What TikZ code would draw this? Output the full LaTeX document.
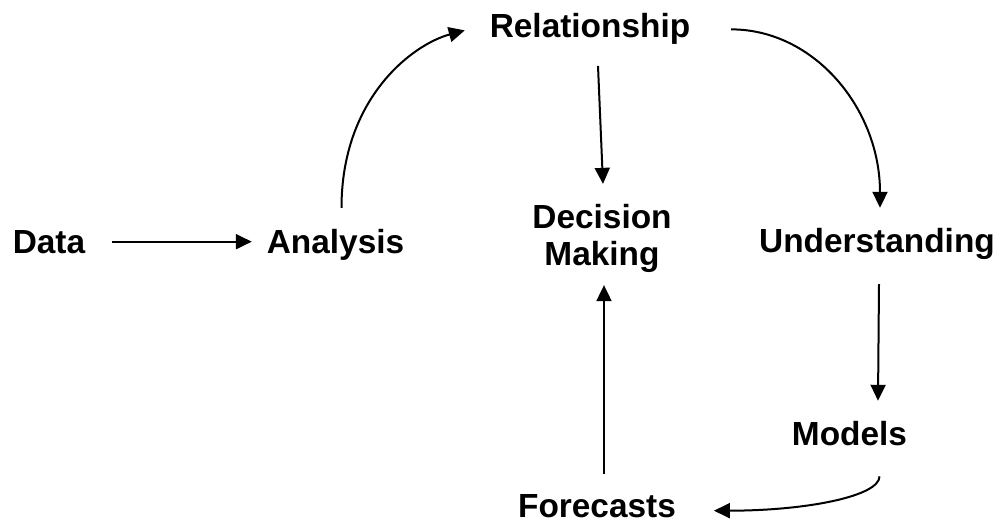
\documentclass[tikz,border=0pt]{standalone}
\usepackage{fontspec}
\setmainfont{Liberation Sans}
\usetikzlibrary{arrows.meta, calc, positioning}
\tikzset{>={Triangle[length=8pt,width=7.5pt]}}

\begin{document}
\begin{tikzpicture}[x=0.5pt, y=-0.5pt, line width=1pt,
    word/.style={inner sep=0pt, font=\fontsize{16.7}{18.5}\selectfont\bfseries, anchor=base},
    flow/.style={->}]
\useasboundingbox (0,0) rectangle (1002,521);
\node[word] (data) at (49,253) {Data};
\node[word] (analysis) at (335.5,253) {Analysis};
\node[word] (relationship) at (590,37) {Relationship};
\node[word, anchor=center, align=center] (decision) at (602,238) {Decision\\Making};
\node[word] (understanding) at (877,252) {Understanding};
\node[word] (models) at (849.5,445) {Models};
\node[word] (forecasts) at (597,517) {Forecasts};
\draw[flow] ([xshift=13pt]data.east) -- ($(data.east -| analysis.west)+(-7pt,0)$);
\draw[flow] ([xshift=3pt,yshift=10pt]analysis.north) .. controls +(0pt,55pt) and +(-26pt,-7pt) .. ([xshift=-12pt,yshift=-1pt]relationship.west);
\draw[flow] ([xshift=4pt,yshift=-10.5pt]relationship.south) -- ([xshift=0.5pt,yshift=9.5pt]decision.north);
\draw[flow] ([xshift=20pt,yshift=-0.5pt]relationship.east) .. controls +(41.5pt,0pt) and +(0pt,49.5pt) .. ([xshift=1.5pt,yshift=9.5pt]understanding.north); % curved to the right
\draw[flow] ([xshift=1pt,yshift=-12pt]understanding.south) -- ($(understanding.south |- models.north)+(0.5pt,9.5pt)$);
\draw[flow] ([xshift=15pt,yshift=-15pt]models.south) .. controls +(0pt,-10pt) and +(46pt,0pt) .. ([xshift=18.5pt,yshift=-2.5pt]forecasts.east);
\draw[flow] ([xshift=3.5pt,yshift=9.5pt]forecasts.north) -- ([xshift=1pt,yshift=-6pt]decision.south);
\end{tikzpicture}
\end{document}
